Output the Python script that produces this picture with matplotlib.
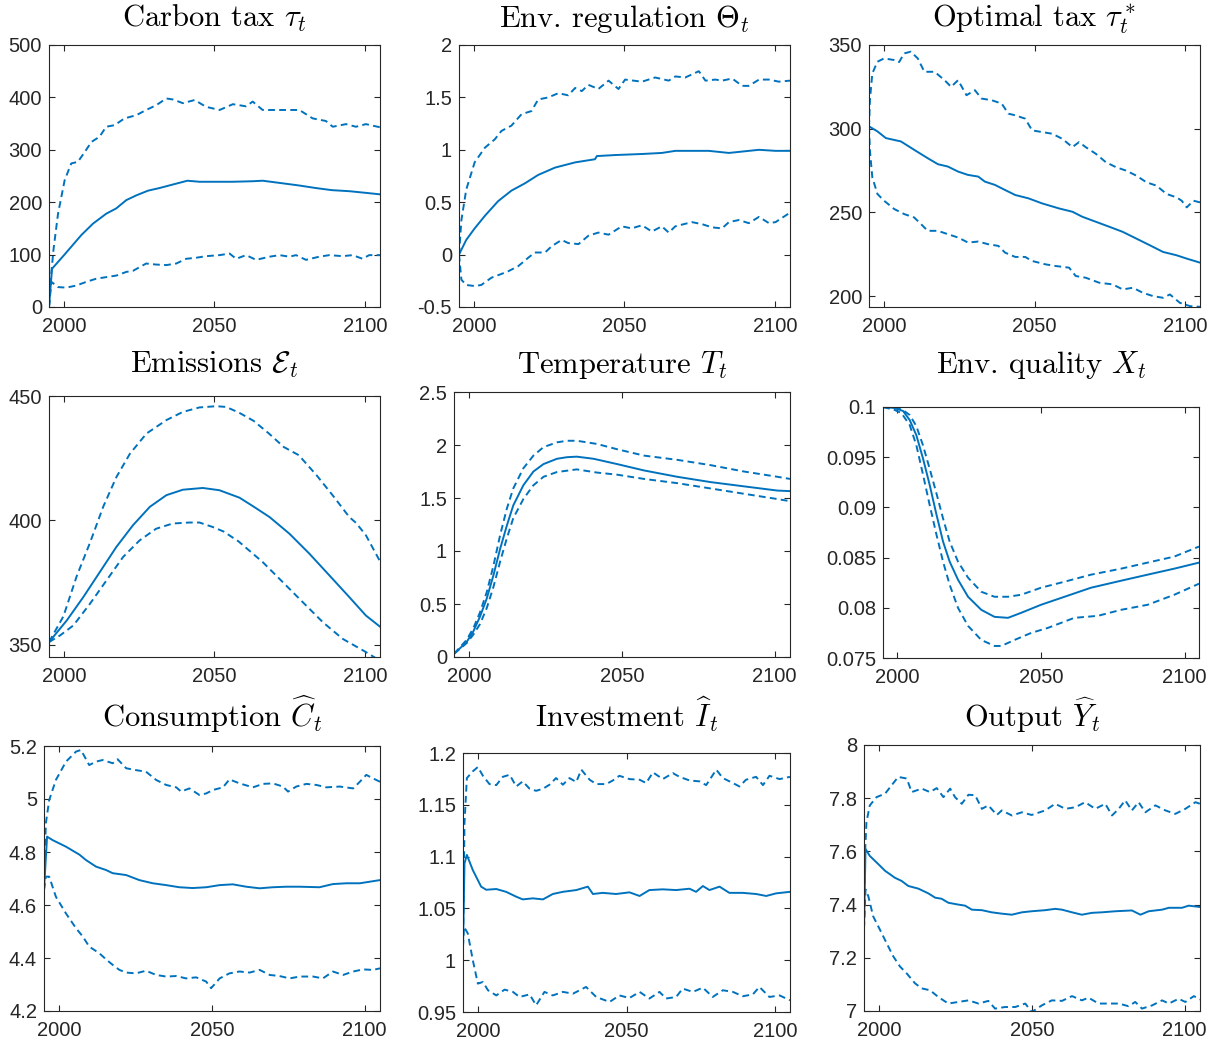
import matplotlib
matplotlib.use('Agg')
import matplotlib.pyplot as plt
from matplotlib.ticker import FuncFormatter

plt.rcParams['font.family'] = ['Liberation Sans', 'DejaVu Sans']
plt.rcParams['mathtext.fontset'] = 'cm'
plt.rcParams['axes.unicode_minus'] = False

# ---- data, (year, value) ----
# carbon tax
tax_mid = [(1995, 0), (1996, 73), (2000, 99), (2002.4, 115), (2005.7, 137), (2009.6, 159), (2014, 178),
           (2017.3, 188), (2020.7, 204), (2024, 213), (2027.9, 222), (2031.7, 227), (2035, 232), (2041, 241),
           (2045, 239), (2050, 239), (2056, 239), (2062.7, 240), (2066, 241), (2072.7, 236), (2078, 232),
           (2083.7, 227), (2089, 223), (2094.8, 221), (2100, 218), (2105, 215)]
tax_up = [(1995, 0), (1995.7, 60), (1996.5, 110), (1998, 178), (2000.2, 242), (2002.4, 274), (2004.6, 277),
          (2006.9, 296), (2009.1, 315), (2011.8, 325), (2014, 344), (2016.8, 347), (2020.1, 360), (2024, 366),
          (2027.3, 376), (2030.6, 385), (2034, 398), (2036.2, 396), (2039.5, 389), (2043.4, 395), (2047.2, 382),
          (2051.7, 376), (2056.1, 387), (2060.5, 383), (2062.7, 392), (2066, 376), (2070.5, 376), (2074.9, 376),
          (2078.2, 376), (2082.6, 360), (2087, 355), (2089.3, 344), (2093.7, 349), (2097, 344), (2100.3, 349),
          (2105, 343)]
tax_lo = [(1995, 0), (1995.8, 48), (1998, 38), (2000.8, 37), (2004.1, 41), (2007.4, 48), (2010.7, 54),
          (2014, 57), (2017.4, 60), (2020.7, 67), (2022.9, 69), (2025.1, 76), (2027.3, 83), (2030.6, 81),
          (2034, 80), (2037.3, 83), (2040.6, 92), (2043.9, 94), (2047.2, 97), (2051.7, 99), (2055, 102),
          (2057.2, 92), (2060.5, 99), (2063.8, 90), (2068.3, 96), (2071.6, 99), (2074.9, 96), (2077.1, 99),
          (2080.4, 90), (2084.8, 96), (2088.2, 99), (2092.6, 97), (2095.9, 99), (2099.2, 92), (2101.4, 99),
          (2105, 99)]

# environmental regulation
reg_mid = [(1995, 0), (1997.4, 0.14), (2000.2, 0.25), (2003.6, 0.37), (2008, 0.51), (2012.4, 0.61),
           (2016.9, 0.68), (2021.3, 0.76), (2026.9, 0.83), (2033.6, 0.88), (2040.2, 0.91), (2040.8, 0.94),
           (2046.9, 0.95), (2055.8, 0.96), (2062.4, 0.97), (2066.9, 0.99), (2078, 0.99), (2084.7, 0.97),
           (2094.7, 1.0), (2100.2, 0.99), (2105, 0.99)]
reg_up = [(1995, 0), (1995.8, 0.33), (1997.4, 0.62), (2000.2, 0.88), (2003.6, 1.02), (2006.9, 1.10),
          (2009.1, 1.18), (2012.4, 1.23), (2015.8, 1.34), (2019.1, 1.37), (2021.3, 1.48), (2024.7, 1.50),
          (2028, 1.54), (2031.3, 1.52), (2033.6, 1.59), (2035.8, 1.56), (2038, 1.62), (2041.3, 1.58),
          (2044.7, 1.66), (2048, 1.58), (2050.2, 1.67), (2055.8, 1.65), (2060.2, 1.69), (2064.7, 1.66),
          (2066.9, 1.70), (2070.2, 1.69), (2074.7, 1.75), (2076.9, 1.66), (2080.2, 1.67), (2082.4, 1.66),
          (2085.8, 1.68), (2089.1, 1.61), (2091.3, 1.61), (2094.7, 1.67), (2098, 1.67), (2101.3, 1.65),
          (2105, 1.66)]
reg_lo = [(1995, 0), (1995.8, -0.24), (1997.4, -0.29), (2000.2, -0.30), (2002.4, -0.29), (2005.8, -0.22),
          (2008.6, -0.19), (2011.3, -0.16), (2014.7, -0.11), (2018, -0.03), (2020.2, 0.02), (2023.6, 0.02),
          (2025.8, 0.08), (2029.1, 0.14), (2031.3, 0.11), (2034.7, 0.10), (2038, 0.18), (2041.3, 0.21),
          (2044.7, 0.19), (2049.1, 0.27), (2052.4, 0.25), (2055.8, 0.28), (2059.1, 0.22), (2062.4, 0.27),
          (2064.7, 0.21), (2066.9, 0.27), (2072.4, 0.31), (2075.8, 0.29), (2079.1, 0.26), (2082.4, 0.25),
          (2084.7, 0.31), (2088, 0.33), (2091.3, 0.30), (2094.7, 0.36), (2098, 0.30), (2100.2, 0.31),
          (2105, 0.40)]

# optimal tax
opt_mid = [(1995, 301.4), (1997.8, 298.4), (2000.6, 294.4), (2005.6, 292.4), (2010, 287.4), (2014.5, 282.4),
           (2017.9, 278.8), (2021.2, 277.4), (2024.6, 274.4), (2027.9, 272.4), (2031.3, 271.4), (2033.5, 268.4),
           (2036.9, 266.4), (2040.2, 263.4), (2043.6, 260.4), (2048, 258.4), (2052.5, 255.4), (2058.1, 252.4),
           (2062.6, 250.4), (2065.9, 247.4), (2070.4, 244.4), (2074.9, 241.4), (2079.3, 238.4), (2083.8, 234.4),
           (2088.3, 230.4), (2092.7, 226.4), (2097.2, 224.4), (2100.6, 222.4), (2105, 220)]
opt_up = [(1995, 301), (1995.3, 317), (1996.1, 333), (1997.8, 340), (2000, 342), (2003.4, 341), (2005, 339.8),
          (2006.7, 345), (2008.9, 346), (2011.2, 342), (2013.4, 334), (2016.8, 334), (2020.1, 329), (2022.3, 325),
          (2024.6, 329), (2027.4, 320), (2030.2, 323), (2032.4, 318), (2035.8, 317), (2039.1, 315), (2041.3, 309),
          (2043.6, 308), (2046.9, 306), (2049.2, 299), (2052.5, 298), (2055.9, 297), (2059.2, 294), (2062.6, 289),
          (2064.8, 292), (2067, 289), (2070.4, 285), (2073.7, 280), (2077.1, 277), (2080.4, 275), (2083.8, 272),
          (2087.2, 268), (2090.5, 266), (2093.9, 261), (2097.2, 259), (2098.9, 257), (2100.6, 253), (2102.8, 257),
          (2105, 256)]
opt_lo = [(1995, 301), (1995.3, 287), (1996.1, 271), (1997.8, 261), (2000, 257), (2003.4, 252), (2006.7, 249),
          (2010, 247), (2012.3, 243), (2014.5, 239), (2017.9, 239), (2021.2, 237), (2024.6, 235), (2027.9, 232),
          (2031.3, 232.6), (2034.6, 231), (2038, 230), (2040.2, 226), (2043.6, 223.4), (2046.9, 223.4),
          (2049.2, 221), (2053.6, 219), (2057, 218), (2061.5, 217), (2063.7, 212), (2067, 211), (2071.5, 208),
          (2076, 207), (2079.3, 204), (2082.7, 205), (2086, 202), (2089.4, 200), (2092.7, 199), (2095, 201),
          (2098.3, 196), (2101.7, 194), (2105, 193.6)]

# emissions
em_mid = [(1995, 351), (2000.9, 359.7), (2006.4, 369.1), (2011.9, 379.2), (2017.4, 389.3), (2022.9, 398),
          (2028.5, 405.4), (2034, 410.1), (2039.5, 412.3), (2046.1, 413), (2051.6, 412.1), (2058.3, 409.1),
          (2063, 405.5), (2068.3, 401.3), (2074.9, 394.6), (2081.5, 386.6), (2088.2, 377.8), (2094.8, 369.1),
          (2100.3, 361.7), (2105, 357.2)]
em_up = [(1995, 351), (1999.8, 361.4), (2004.2, 377.5), (2008.6, 390.9), (2013, 405.4), (2017.4, 417.4),
         (2021.9, 426.8), (2027.4, 434.9), (2034, 440.3), (2039.5, 443.6), (2045, 445.4), (2050.6, 445.9),
         (2053.9, 445.6), (2058.3, 443.2), (2063, 440), (2068, 435), (2073, 429.5), (2078, 426.2), (2084, 418),
         (2089.3, 410), (2094.8, 401.3), (2097, 399), (2100.3, 394), (2105, 383.5)]
em_lo = [(1995, 351), (1998.7, 353.7), (2003.1, 357.7), (2008.6, 366.4), (2014.1, 375.8), (2019.6, 385.2),
         (2025.1, 391.9), (2030.6, 396.6), (2036.1, 398.7), (2041.6, 399.1), (2045, 399.1), (2049.4, 397.3),
         (2053, 395.5), (2058, 391.5), (2066, 383.2), (2072.7, 375.1), (2079.3, 367.1), (2086, 359),
         (2092.6, 352.3), (2100.3, 347), (2105, 343.5)]

# temperature
temp_mid = [(1995, 0.03), (1999.1, 0.14), (2001.3, 0.24), (2003.5, 0.38), (2005.7, 0.55), (2007.9, 0.77),
            (2010.1, 1.02), (2012.3, 1.24), (2014.4, 1.43), (2017.7, 1.62), (2021, 1.75), (2024.3, 1.82),
            (2028.7, 1.87), (2032, 1.885), (2035.2, 1.89), (2040.7, 1.87), (2048.4, 1.82), (2057.2, 1.76),
            (2068.1, 1.70), (2079, 1.65), (2089.9, 1.61), (2100.9, 1.57), (2105, 1.565)]
temp_up = [(1995, 0.03), (1999.1, 0.16), (2001.3, 0.27), (2003.5, 0.42), (2005.7, 0.61), (2007.9, 0.86),
           (2010.1, 1.15), (2012.3, 1.40), (2014.4, 1.59), (2017.7, 1.78), (2021, 1.90), (2024.3, 1.98),
           (2028.7, 2.025), (2032, 2.04), (2035.2, 2.04), (2041.8, 2.01), (2048.4, 1.96), (2057.2, 1.90),
           (2068.1, 1.86), (2079, 1.81), (2089.9, 1.75), (2100.9, 1.70), (2105, 1.68)]
temp_lo = [(1995, 0.03), (1999.1, 0.13), (2001.3, 0.21), (2003.5, 0.31), (2005.7, 0.46), (2007.9, 0.66),
           (2010.1, 0.90), (2012.3, 1.12), (2014.4, 1.31), (2017.7, 1.49), (2021, 1.62), (2024.3, 1.70),
           (2028.7, 1.745), (2035.2, 1.77), (2041.8, 1.74), (2048.4, 1.72), (2057.2, 1.68), (2068.1, 1.64),
           (2079, 1.59), (2089.9, 1.54), (2100.9, 1.49), (2105, 1.47)]

# environmental quality
xq_mid = [(1995, 0.1), (1999.1, 0.0999), (2002, 0.0996), (2004.3, 0.0987), (2006.6, 0.0972), (2008.9, 0.0949),
          (2011.2, 0.0923), (2013.6, 0.0893), (2015.9, 0.0866), (2018.2, 0.0846), (2021.1, 0.0828),
          (2024.6, 0.0811), (2029.2, 0.0798), (2033.8, 0.0791), (2038.5, 0.0790), (2043.1, 0.0795),
          (2050, 0.0803), (2058.2, 0.0811), (2067.4, 0.0820), (2077.9, 0.0827), (2087.1, 0.0833),
          (2096.4, 0.0839), (2105, 0.0845)]
xq_up = [(1995, 0.1), (2001.4, 0.0998), (2004.3, 0.0992), (2006.6, 0.0981), (2008.9, 0.0962), (2011.2, 0.0939),
         (2013.6, 0.0914), (2015.9, 0.0889), (2018.2, 0.0866), (2021.1, 0.0846), (2024.6, 0.0830),
         (2029.2, 0.0816), (2033.8, 0.0811), (2038.5, 0.0811), (2043.1, 0.0813), (2050, 0.0820),
         (2058.2, 0.0826), (2067.4, 0.0833), (2077.9, 0.0839), (2087.1, 0.0845), (2096.4, 0.0851),
         (2105, 0.0861)]
xq_lo = [(1995, 0.1), (1999.1, 0.0997), (2001.4, 0.0994), (2004.3, 0.0982), (2006.6, 0.0962), (2008.9, 0.0933),
         (2011.2, 0.0903), (2013.6, 0.0873), (2015.9, 0.0846), (2018.2, 0.0823), (2021.1, 0.0800),
         (2024.6, 0.0782), (2029.2, 0.0768), (2033.8, 0.0762), (2036.2, 0.0762), (2040.8, 0.0768),
         (2046.6, 0.0775), (2052.4, 0.0780), (2061.6, 0.0790), (2069.8, 0.0792), (2077.9, 0.0798),
         (2087.1, 0.0803), (2096.4, 0.0813), (2105, 0.0824)]

# consumption
con_mid = [(1995, 4.657), (1996, 4.858), (1997.8, 4.845), (2002.2, 4.82), (2006.6, 4.79), (2008.7, 4.77),
           (2012, 4.745), (2015.3, 4.732), (2017.5, 4.72), (2021.9, 4.713), (2026.2, 4.694), (2030.6, 4.682),
           (2035, 4.675), (2039.3, 4.667), (2043.7, 4.664), (2048.1, 4.667), (2052.5, 4.675), (2056.8, 4.678),
           (2061.2, 4.669), (2065.6, 4.663), (2069.9, 4.667), (2074.3, 4.669), (2078.7, 4.669), (2085.2, 4.667),
           (2089.6, 4.679), (2094, 4.682), (2098.4, 4.682), (2105, 4.694)]
con_up = [(1995, 4.657), (1995.6, 4.908), (1996.7, 4.996), (1998.9, 5.072), (2002.2, 5.141), (2005.5, 5.179),
          (2007.1, 5.185), (2009.8, 5.128), (2012, 5.141), (2014.2, 5.147), (2017.5, 5.135), (2019.1, 5.150),
          (2021.9, 5.116), (2025.1, 5.109), (2028.4, 5.103), (2031.7, 5.072), (2035, 5.053), (2038.3, 5.044),
          (2039.9, 5.028), (2042.6, 5.040), (2045.9, 5.015), (2048.1, 5.021), (2050.3, 5.034), (2053.6, 5.044),
          (2055.7, 5.074), (2059, 5.059), (2063.4, 5.044), (2066.7, 5.057), (2069.9, 5.059), (2073.2, 5.047),
          (2074.9, 5.028), (2077.6, 5.047), (2080.9, 5.057), (2084.2, 5.053), (2087.4, 5.044), (2091.8, 5.047),
          (2096.2, 5.040), (2098.4, 5.065), (2100.5, 5.091), (2102.7, 5.078), (2105, 5.065)]
con_lo = [(1995, 4.657), (1995.6, 4.707), (1996.7, 4.707), (1998.9, 4.631), (2002.2, 4.568), (2005.5, 4.512),
          (2007.7, 4.481), (2009.8, 4.443), (2013.1, 4.418), (2015.3, 4.395), (2017.5, 4.374), (2019.7, 4.355),
          (2021.9, 4.345), (2025.1, 4.342), (2028.4, 4.352), (2031.7, 4.336), (2035, 4.330), (2038.3, 4.332),
          (2041.5, 4.323), (2044.8, 4.327), (2048.1, 4.311), (2049.7, 4.286), (2052.5, 4.323), (2055.7, 4.342),
          (2059, 4.349), (2062.3, 4.345), (2065.6, 4.355), (2068.9, 4.336), (2072.1, 4.332), (2075.4, 4.323),
          (2078.7, 4.330), (2083.1, 4.330), (2086.3, 4.323), (2089.6, 4.349), (2092.9, 4.336), (2096.2, 4.349),
          (2099.5, 4.357), (2102.7, 4.355), (2105, 4.361)]

# investment
inv_mid = [(1995, 1.0129), (1995.5, 1.0935), (1996.3, 1.1016), (1998.3, 1.087), (2001.1, 1.071), (2002.8, 1.068),
           (2006.2, 1.0687), (2009.5, 1.066), (2012.9, 1.0613), (2015.1, 1.0587), (2018.5, 1.0597),
           (2021.9, 1.0587), (2025.2, 1.0639), (2028.6, 1.066), (2033.1, 1.0677), (2037, 1.071), (2038.7, 1.0639),
           (2042, 1.065), (2046.5, 1.0639), (2051, 1.0655), (2054.4, 1.062), (2057.7, 1.0677), (2062.2, 1.0684),
           (2066.7, 1.0677), (2071.2, 1.069), (2073.4, 1.066), (2075.7, 1.0716), (2077.9, 1.0677),
           (2081.3, 1.071), (2084.6, 1.065), (2089.1, 1.065), (2093.6, 1.0639), (2097, 1.062), (2100.3, 1.0645),
           (2105, 1.066)]
inv_up = [(1995, 1.013), (1995.5, 1.1323), (1996.3, 1.1758), (1998.3, 1.1823), (2000, 1.1865), (2001.7, 1.178),
          (2003.9, 1.170), (2006.2, 1.169), (2008.4, 1.177), (2010.7, 1.179), (2012.9, 1.1677), (2015.1, 1.1726),
          (2017.4, 1.1655), (2019.6, 1.1635), (2021.9, 1.1655), (2024.1, 1.1694), (2026.3, 1.1758),
          (2028.6, 1.1694), (2030.8, 1.1758), (2033.1, 1.172), (2034.8, 1.1839), (2037.6, 1.1742),
          (2039.8, 1.170), (2043.2, 1.170), (2045.4, 1.1735), (2047.6, 1.178), (2051, 1.1748), (2054.4, 1.1742),
          (2056.6, 1.171), (2058.9, 1.1813), (2062.2, 1.1748), (2065.6, 1.1806), (2067.8, 1.177),
          (2071.2, 1.1735), (2074.6, 1.1726), (2076.8, 1.169), (2080.2, 1.1839), (2082.4, 1.1758),
          (2085.8, 1.171), (2088, 1.1677), (2090.2, 1.1742), (2093.6, 1.177), (2095.9, 1.169), (2098.1, 1.178),
          (2101.5, 1.1748), (2105, 1.177)]
inv_lo = [(1995, 1.013), (1995.3, 1.0323), (1996.6, 1.026), (1998.3, 1.0), (2000, 0.9774), (2001.7, 0.979),
          (2003.4, 0.971), (2006.2, 0.966), (2009, 0.9716), (2011.8, 0.9694), (2014, 0.9645), (2017.4, 0.967),
          (2019.6, 0.9565), (2022.4, 0.9694), (2025.2, 0.966), (2028.6, 0.9694), (2032, 0.9677), (2036.4, 0.9742),
          (2039.8, 0.9645), (2044.3, 0.9597), (2047.6, 0.966), (2051, 0.9635), (2054.4, 0.9694), (2057.7, 0.963),
          (2061.1, 0.9694), (2063.3, 0.963), (2066.7, 0.9645), (2068.9, 0.9726), (2072.3, 0.9694),
          (2075.7, 0.9735), (2079, 0.9645), (2082.4, 0.971), (2085.8, 0.9694), (2089.1, 0.9652), (2092.5, 0.967),
          (2094.7, 0.9742), (2098.1, 0.9645), (2101.5, 0.966), (2105, 0.9613)]

# output
out_mid = [(1995, 7.312), (1995.5, 7.609), (1996.9, 7.583), (1999.7, 7.552), (2001.9, 7.527), (2005.1, 7.501),
           (2007.3, 7.489), (2009.5, 7.470), (2012.8, 7.460), (2016.1, 7.442), (2018.3, 7.426), (2020.4, 7.422),
           (2022.6, 7.407), (2025.9, 7.400), (2028.1, 7.396), (2030.3, 7.381), (2033.6, 7.379), (2036.8, 7.371),
           (2040.1, 7.366), (2043.4, 7.362), (2046.7, 7.371), (2049.9, 7.375), (2054.3, 7.379), (2057.6, 7.384),
           (2059.8, 7.381), (2063.1, 7.371), (2066.3, 7.362), (2069.6, 7.369), (2072.9, 7.371), (2077.3, 7.375),
           (2082.7, 7.378), (2085.5, 7.362), (2088.2, 7.375), (2092.6, 7.381), (2094.8, 7.388), (2099.1, 7.388),
           (2101.3, 7.396), (2105, 7.391)]
out_up = [(1995, 7.31), (1995.3, 7.583), (1995.8, 7.71), (1996.9, 7.773), (1999.1, 7.804), (2001.9, 7.817),
          (2004, 7.848), (2006.2, 7.880), (2009, 7.874), (2010.6, 7.823), (2013.9, 7.836), (2016.6, 7.823),
          (2018.8, 7.838), (2021, 7.804), (2023.2, 7.836), (2024.8, 7.804), (2027, 7.779), (2029.2, 7.813),
          (2031.4, 7.811), (2033.6, 7.760), (2035.7, 7.773), (2038.5, 7.737), (2040.1, 7.754), (2043.4, 7.735),
          (2046.7, 7.747), (2049.9, 7.737), (2054.3, 7.754), (2057.6, 7.779), (2060.9, 7.760), (2064.2, 7.766),
          (2067.4, 7.785), (2070.7, 7.760), (2074, 7.779), (2076.2, 7.735), (2078.4, 7.760), (2080.5, 7.792),
          (2082.7, 7.754), (2084.9, 7.785), (2087.1, 7.747), (2090.4, 7.773), (2093.7, 7.754), (2096.9, 7.741),
          (2100.2, 7.760), (2103.5, 7.785), (2105, 7.779)]
out_lo = [(1995, 7.31), (1995.5, 7.457), (1996.4, 7.432), (1998, 7.356), (2000.2, 7.306), (2002.4, 7.255),
          (2004.6, 7.205), (2006.8, 7.167), (2009, 7.141), (2011.7, 7.104), (2013.9, 7.085), (2016.6, 7.078),
          (2019.3, 7.053), (2022.6, 7.028), (2025.9, 7.034), (2029.2, 7.040), (2032.5, 7.028), (2035.7, 7.038),
          (2037.9, 7.009), (2041.2, 7.015), (2044.5, 7.015), (2047.8, 7.028), (2049.9, 6.996), (2053.2, 7.021),
          (2056.5, 7.040), (2059.8, 7.038), (2063.1, 7.056), (2066.3, 7.040), (2068.5, 7.050), (2071.8, 7.028),
          (2075.1, 7.028), (2078.4, 7.028), (2081.6, 7.018), (2083.8, 7.034), (2086, 7.009), (2089.3, 7.021),
          (2092.6, 7.040), (2094.8, 7.028), (2098, 7.046), (2100.2, 7.034), (2103, 7.056), (2105, 7.043)]

titles = ['Carbon tax $\\tau_t$', 'Env. regulation $\\Theta_t$', 'Optimal tax $\\tau^*_t$',
          'Emissions $\\mathcal{E}_t$', 'Temperature $T_t$', 'Env. quality $X_t$',
          'Consumption $\\widehat{C}_t$', 'Investment $\\widehat{I}_t$', 'Output $\\widehat{Y}_t$']
series = [(tax_mid, tax_up, tax_lo), (reg_mid, reg_up, reg_lo), (opt_mid, opt_up, opt_lo),
          (em_mid, em_up, em_lo), (temp_mid, temp_up, temp_lo), (xq_mid, xq_up, xq_lo),
          (con_mid, con_up, con_lo), (inv_mid, inv_up, inv_lo), (out_mid, out_up, out_lo)]
ylims = [(0, 500), (-0.5, 2), (193.5, 350), (345, 450), (0, 2.5), (0.075, 0.1),
         (4.2, 5.2), (0.95, 1.2), (7, 8)]
yticks = [[0, 100, 200, 300, 400, 500], [-0.5, 0, 0.5, 1, 1.5, 2], [200, 250, 300, 350], [350, 400, 450],
          [0, 0.5, 1, 1.5, 2, 2.5], [0.075, 0.08, 0.085, 0.09, 0.095, 0.1],
          [4.2, 4.4, 4.6, 4.8, 5, 5.2], [0.95, 1, 1.05, 1.1, 1.15, 1.2], [7, 7.2, 7.4, 7.6, 7.8, 8]]
xticks = [2000, 2050, 2100]

# axes boxes in pixels: left, right, top, bottom
W, H = 1221, 1044
boxes = [(49, 380, 45, 307), (459, 790, 45, 307), (869, 1200, 45, 307),
         (49, 380, 396, 657), (454, 790, 392, 657), (883, 1199, 407, 658),
         (44, 380, 746, 1011), (463, 790, 753, 1012), (864, 1200, 745, 1011)]
title_base = [27, 27, 27, 373, 373, 373, 727, 727, 727]

blue = '#0072BD'
dark = '#262626'

fig = plt.figure(figsize=(W / 100, H / 100), dpi=100)

for i in range(9):
    l, r, t, b = boxes[i]
    ax = fig.add_axes([l / W, 1 - b / H, (r - l) / W, (b - t) / H])
    mid, up, lo = series[i]
    for pts, ls in [(up, (0, (3.5, 2.2))), (lo, (0, (3.5, 2.2))), (mid, '-')]:
        xs = [p[0] for p in pts]
        ys = [p[1] for p in pts]
        ax.plot(xs, ys, color=blue, lw=1.4, linestyle=ls)
    ax.set_xlim(1995, 2105)
    ax.set_ylim(*ylims[i])
    ax.set_xticks(xticks)
    ax.set_yticks(yticks[i])
    ax.yaxis.set_major_formatter(FuncFormatter(lambda v, p: '%g' % round(v, 6)))
    ax.tick_params(direction='in', length=4, width=0.8, top=True, right=True,
                   labelsize=14.5, colors=dark)
    ax.tick_params(axis='x', pad=7)
    ax.tick_params(axis='y', pad=5)
    for s in ax.spines.values():
        s.set_color(dark)
        s.set_linewidth(0.8)
    fig.text((l + r) / 2 / W, 1 - title_base[i] / H, titles[i], ha='center', va='baseline',
             fontsize=22, color='black', family='cmr10')

fig.savefig('out.png', dpi=100)
